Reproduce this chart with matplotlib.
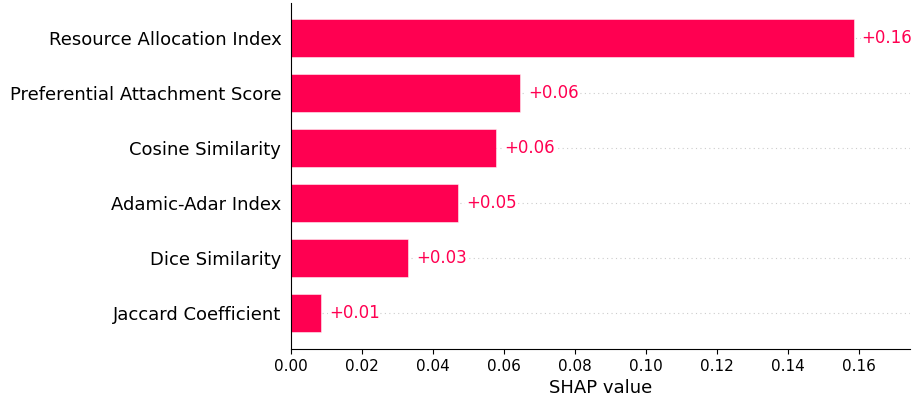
import numpy as np
import matplotlib
matplotlib.use("Agg")
from matplotlib import pyplot as plt

# SHAP bar plot data (top to bottom)
features = ["Resource Allocation Index", "Preferential Attachment Score",
            "Cosine Similarity", "Adamic-Adar Index", "Dice Similarity",
            "Jaccard Coefficient"]
shap_vals = [0.1586, 0.0646, 0.0578, 0.0471, 0.0331, 0.0085]
val_labels = ["+0.16", "+0.06", "+0.06", "+0.05", "+0.03", "+0.01"]

red = "#ff0051"

fig = plt.figure(figsize=(9.13, 3.97), dpi=100)
ax = fig.add_axes([291 / 913, 48 / 397, 619 / 913, 346 / 397])

ypos = np.arange(len(features))[::-1]
xmax = 0.1744

for y, v in zip(ypos, shap_vals):
    ax.axhline(y, color="#cccccc", lw=0.8, dashes=(1, 3), zorder=-1)

ax.barh(ypos, shap_vals, height=0.7, color=red, edgecolor=(1, 1, 1, 0.6), linewidth=0.6, zorder=2)

for y, v, lab in zip(ypos, shap_vals, val_labels):
    ax.text(v + xmax / 80, y, lab, ha="left", va="center", color=red, fontsize=12, zorder=3,
            bbox=dict(facecolor="white", edgecolor="none", pad=0.5))

ax.set_yticks(ypos)
ax.set_yticklabels(features, fontsize=13)
ax.tick_params(axis="y", length=0, pad=7)
ax.tick_params(axis="x", labelsize=11)
ax.set_xticks(np.arange(0, 0.17, 0.02))
ax.set_xlim(0, xmax)
ax.set_ylim(-0.65, 5.64)
ax.set_xlabel("SHAP value", fontsize=13)

ax.spines["top"].set_visible(False)
ax.spines["right"].set_visible(False)

fig.savefig("out.png", dpi=100)
